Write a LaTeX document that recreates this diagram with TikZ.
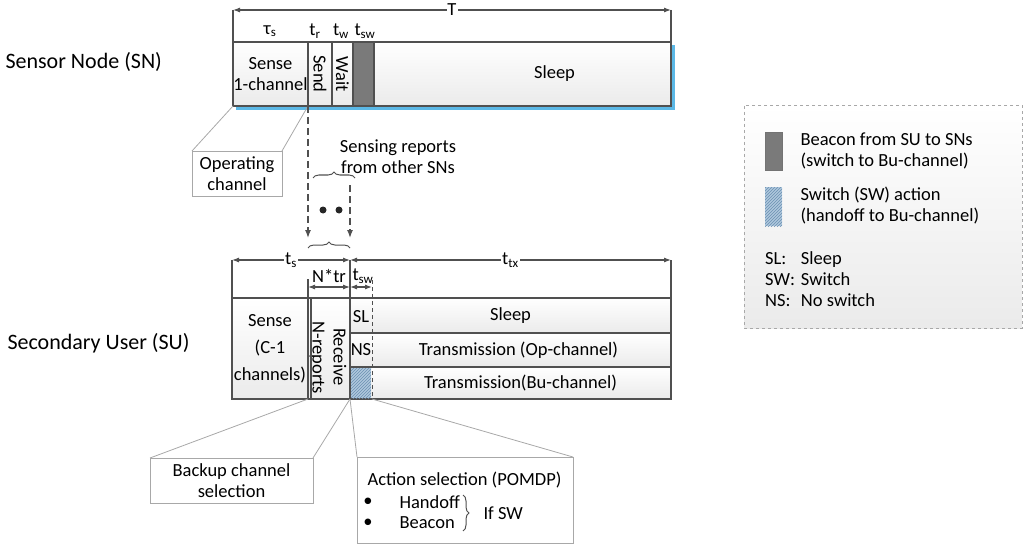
\documentclass[tikz,border=0pt]{standalone}
\usepackage{fontspec}
\setmainfont{Carlito}
\usetikzlibrary{shapes,arrows,arrows.meta,positioning,calc,decorations.pathreplacing,patterns}
\definecolor{framegray}{HTML}{505050}
\definecolor{callgray}{HTML}{A8A8A8}
\definecolor{beacongray}{HTML}{7A7A7A}
\definecolor{hatchblue}{HTML}{AFC8DD}
\definecolor{hatchline}{HTML}{6B90B2}
\definecolor{shadowblue}{HTML}{5BB8E6}
\newcommand{\mainsize}{\fontsize{18.5}{21}\selectfont}
\newcommand{\rolesize}{\fontsize{22}{26}\selectfont}
\tikzstyle{slot} = [rectangle, draw=framegray, line width=1.3pt, inner sep=0pt, outer sep=0pt, font=\mainsize]
\tikzstyle{cell} = [slot, top color=white, bottom color=black!8]
\tikzstyle{hatch} = [rectangle, fill=hatchblue, postaction={pattern=north east lines, pattern color=hatchline}, inner sep=0pt, outer sep=0pt]
\tikzstyle{callout} = [rectangle, draw=callgray, fill=white, line width=0.8pt, align=center, inner sep=0pt, outer sep=0pt, font=\mainsize]
\tikzstyle{legendbox} = [rectangle, draw=callgray, dashed, line width=0.8pt, top color=white, bottom color=black!8, inner sep=0pt, outer sep=0pt]
\tikzstyle{tie} = [draw=callgray, line width=0.8pt]
\tikzstyle{span} = [draw=framegray, line width=1.1pt, {Latex[length=7pt,width=5pt]}-{Latex[length=7pt,width=5pt]}]
\tikzstyle{report} = [draw=framegray, line width=1.3pt, dash pattern=on 7pt off 4pt, -{Latex[length=8pt,width=6pt]}]
\tikzstyle{tick} = [draw=framegray, line width=1.1pt]
\tikzstyle{curly} = [draw=framegray, line width=1pt, decorate, decoration={brace, amplitude=6pt}]
\tikzstyle{timelabel} = [fill=white, inner sep=1pt, font=\mainsize]
\tikzstyle{txt} = [font=\mainsize]
\tikzstyle{every label} = [font=\mainsize]

\begin{document}
\begin{tikzpicture}[x=1pt, y=-1pt, node distance=0pt]
    \useasboundingbox (0,0) rectangle (1024,548);
    % Sensor node frame
    \fill [shadowblue] (236,45) rectangle (675,110);
    \node [cell, anchor=north west, minimum width=75, minimum height=64, align=center] (sense) at (233,42) {Sense\\1-channel};
    \node [cell, minimum width=24, minimum height=64, right=of sense, label={[rotate=-90]center:Send}] (send) {};
    \node [cell, minimum width=21, minimum height=64, right=of send, label={[rotate=-90]center:Wait}] (wait) {};
    \node [slot, fill=beacongray, minimum width=21, minimum height=64, right=of wait] (beacon) {};
    \node [cell, minimum width=297, minimum height=64, right=of beacon, label={[xshift=32]center:Sleep}] (sleep) {};
    \node [anchor=west, font=\rolesize] (snlabel) at (2,62) {Sensor Node (SN)};
    % Sensor node times
    \coordinate (tL) at (233,10);
    \coordinate (tR) at (671,10);
    \path [span] (tL) -- node[timelabel] (tT) {T} (tR);
    \path [tick] (tL) -- (sense.north west);
    \path [tick] (tR) -- (sleep.north east);
    \node [txt] (tauS) at (270,31) {τ\textsubscript{s}};
    \node [txt] (tRe) at (315,31) {t\textsubscript{r}};
    \node [txt] (tWa) at (341,31) {t\textsubscript{w}};
    \node [txt] (tSw) at (365,31) {t\textsubscript{sw}};
    % Operating channel callout
    \node [callout, anchor=north west, minimum width=90, minimum height=45] (opch) at (192,151) {Operating\\channel};
    \path [tie] (opch.north west) -- (sense.south west);
    \path [tie] (opch.north east) -- (sense.south east);
    % Sensing reports
    \coordinate (rep1) at (308,238);
    \coordinate (rep2top) at (350,185);
    \coordinate (rep2) at (350,238);
    \path [report] (sense.south east) -- (rep1);
    \path [report] (rep2top) -- (rep2);
    \coordinate (brA) at (313,178);
    \coordinate (brB) at (355,178);
    \path [curly] (brA) -- (brB);
    \node [txt, align=center] (reports) at (398,157) {Sensing reports\\from other SNs};
    \fill [black!85] (323,210) circle (3.5pt);
    \fill [black!85] (339,210) circle (3.5pt);
    \coordinate (brC) at (308,248);
    \coordinate (brD) at (350,248);
    \path [curly] (brC) -- (brD);
    % Secondary user frame
    \node [cell, anchor=north west, minimum width=76, minimum height=101, align=center, font=\fontsize{18.5}{27}\selectfont] (sense2) at (232,298) {Sense\\(C-1\\channels)};
    \node [cell, minimum width=42, minimum height=101, right=of sense2] (nrep) {};
    \node [cell, anchor=north west, minimum width=321, minimum height=35] (sleep2) at (nrep.north east) {Sleep};
    \node [cell, minimum width=321, minimum height=34, below=of sleep2, label={[xshift=8]center:Transmission (Op-channel)}] (txop) {};
    \node [cell, minimum width=321, minimum height=32, below=of txop, label={[xshift=10]center:Transmission(Bu-channel)}] (txbu) {};
    \node [hatch, anchor=north west, minimum width=20, minimum height=30] (sw) at (351,368) {};
    \node [txt, rotate=-90] (nrtext) at (317,358) {N-reports};
    \node [txt, rotate=-90] (rectext) at (340,357) {Receive};
    \node [txt] (sltext) at (361,317) {SL};
    \node [txt] (nstext) at (361,350) {NS};
    \path [tick] ($(nrep.north west)+(3,0)$) -- ($(nrep.south west)+(3,0)$);
    \node [anchor=west, font=\rolesize] (sulabel) at (4,343) {Secondary User (SU)};
    % Secondary user times
    \coordinate (suL) at (232,260);
    \coordinate (suM) at (350,260);
    \coordinate (suR) at (671,260);
    \path [span] (suL) -- node[timelabel] (tS) {t\textsubscript{s}} (suM);
    \path [span] (suM) -- node[timelabel] (tTX) {t\textsubscript{tx}} (suR);
    \path [tick] (suL) -- (sense2.north west);
    \path [tick] (suR) -- (sleep2.north east);
    \path [tick] (suM) -- (nrep.south east);
    \coordinate (nL) at (308,287);
    \coordinate (nR) at (350,287);
    \coordinate (nTop) at (308,279);
    \path [tick] (nTop) -- (sense2.north east);
    \path [span] (nL) -- (nR);
    \node [txt] (ntr) at (329,276) {N*tr};
    \coordinate (swL) at (350,287);
    \coordinate (swR) at (372,287);
    \path [span] (swL) -- (swR);
    \node [txt] (tSw2) at (363,276) {t\textsubscript{sw}};
    \coordinate (swTop) at (372,280);
    \path [draw=framegray, line width=1pt, dash pattern=on 4pt off 3pt] (swTop) -- (swTop |- txbu.south);
    % Lower callouts
    \node [callout, anchor=north west, minimum width=163, minimum height=45] (backup) at (150,458) {Backup channel\\selection};
    \path [tie] (backup.north west) -- (sense2.south east);
    \path [tie] (backup.north east) -- (nrep.south east);
    \node [callout, anchor=north west, minimum width=216, minimum height=86] (action) at (357,457) {};
    \path [tie] (action.north west) -- (nrep.south east);
    \path [tie] (action.north east) -- (swTop |- txbu.south);
    \node [txt, anchor=west] (pomdp) at (364,480) {Action selection (POMDP)};
    \node [txt] (bul1) at (368,502) {•};
    \node [txt] (bul2) at (368,523) {•};
    \node [txt, anchor=west] (handoff) at (396,502) {Handoff};
    \node [txt, anchor=west] (beaconitem) at (396,523) {Beacon};
    \coordinate (brE) at (463,495);
    \coordinate (brF) at (463,531);
    \path [curly] (brE) -- (brF);
    \node [txt, anchor=west] (ifsw) at (480,513) {If SW};
    % Legend
    \node [legendbox, anchor=north west, minimum width=278, minimum height=223] (legend) at (744,105) {};
    \node [slot, fill=beacongray, draw=black!55, line width=0.6pt, anchor=north west, minimum width=17, minimum height=38] (keybeacon) at (765,132) {};
    \node [txt, anchor=west, align=left] (keybeacontext) at (797,151) {Beacon from SU to SNs\\(switch to Bu-channel)};
    \node [hatch, anchor=north west, minimum width=17, minimum height=39] (keyswitch) at (765,187) {};
    \node [txt, anchor=west, align=left] (keyswitchtext) at (797,206) {Switch (SW) action\\(handoff to Bu-channel)};
    \node [txt, anchor=west, inner sep=0pt] (abbr) at (765,281) {\begin{tabular}{@{}l@{\hspace{6pt}}l@{}}SL: & Sleep\\SW: & Switch\\NS: & No switch\end{tabular}};
\end{tikzpicture}
\end{document}
